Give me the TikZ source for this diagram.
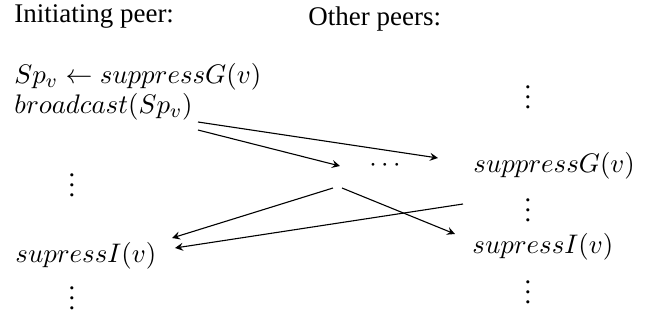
\documentclass[tikz,border=0pt]{standalone}
\usepackage{fontspec}
\setmainfont{Liberation Serif}
\begin{document}
\begin{tikzpicture}[x=0.408pt,y=-0.408pt,
  txt/.style={inner sep=0pt,anchor=base west,font=\fontsize{10.8}{13}\selectfont},
  head/.style={inner sep=0pt,anchor=base west,font=\fontsize{11}{13}\selectfont},
  vd/.style={inner sep=0pt,anchor=base,font=\fontsize{10.8}{13}\selectfont},
  arr/.style={-stealth,line width=0.45pt}]
\useasboundingbox (0,0) rectangle (652,322);
\node[head] (hi) at (14,22) {Initiating peer:};
\node[head] (ho) at (308,25) {Other peers:};
\node[txt] (sp) at (14,83) {$Sp_v \leftarrow suppressG(v)$};
\node[txt] (bc) at (14,113) {$broadcast(Sp_v)$};
\node[vd] (lv1) at (72,196.5) {$\vdots$};
\node[txt] (sil) at (15,262) {$supressI(v)$};
\node[vd] (lv2) at (72,309.5) {$\vdots$};
\node[vd] (rv1) at (528,108.5) {$\vdots$};
\node[txt] (sgr) at (473,172) {$suppressG(v)$};
\node[vd] (dt) at (385,171) {$\cdots$};
\node[vd] (rv2) at (528,221.5) {$\vdots$};
\node[txt] (sir) at (472,253) {$supressI(v)$};
\node[vd] (rv3) at (528,303.5) {$\vdots$};
\draw[arr] ([shift={(184,9)}]bc.base west) -- ([shift={(-35,-14)}]sgr.base west);
\draw[arr] ([shift={(184,17)}]bc.base west) -- ([shift={(-45,-5)}]dt.base);
\draw[arr] ([shift={(-52,17)}]dt.base) -- ([shift={(157,-24)}]sil.base west);
\draw[arr] ([shift={(-43,17)}]dt.base) -- ([shift={(-17,-19)}]sir.base west);
\draw[arr] ([shift={(-10,32)}]sgr.base west) -- ([shift={(160,-14)}]sil.base west);
\end{tikzpicture}
\end{document}
